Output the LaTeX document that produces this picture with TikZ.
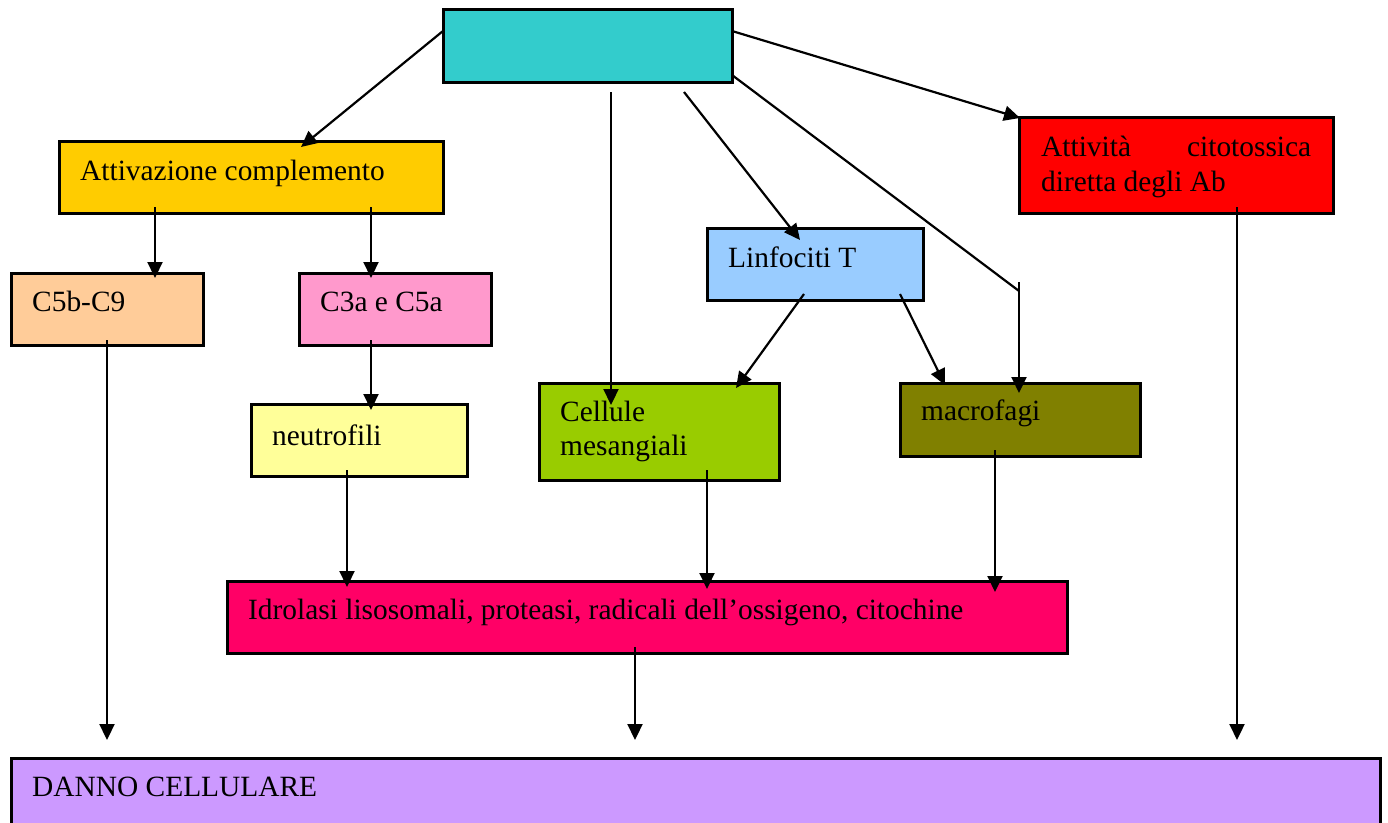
\documentclass[tikz,border=0pt]{standalone}
\usepackage{fontspec}
\setmainfont{Liberation Serif}
\usetikzlibrary{arrows.meta}

\definecolor{cTop}{HTML}{33CCCC}
\definecolor{cAtt}{HTML}{FFCC00}
\definecolor{cCit}{HTML}{FF0000}
\definecolor{cCfive}{HTML}{FFCC99}
\definecolor{cCthree}{HTML}{FF99CC}
\definecolor{cLin}{HTML}{99CCFF}
\definecolor{cNeu}{HTML}{FFFF99}
\definecolor{cMes}{HTML}{99CC00}
\definecolor{cMac}{HTML}{808000}
\definecolor{cIdr}{HTML}{FF0066}
\definecolor{cDan}{HTML}{CC99FF}

\tikzset{
  box/.style={draw=black, line width=3pt, anchor=north west, inner sep=0pt, outer sep=0pt},
  lbl/.style={anchor=base west, inner sep=0pt, font=\fontsize{29.4}{35}\selectfont},
  arr/.style={line width=2.2pt, -{Triangle[length=16pt,width=15pt]}},
  ln/.style={line width=2.2pt}
}

\begin{document}
\begin{tikzpicture}[x=1pt,y=-1pt]
\useasboundingbox (0,0) rectangle (1388,822);
\clip (0,0) rectangle (1388,822);

% boxes
\node[box, fill=cTop, minimum width=289, minimum height=73] (top) at (443,9) {};
\node[box, fill=cAtt, minimum width=384, minimum height=72] (att) at (59,141) {};
\node[box, fill=cCit, minimum width=314, minimum height=96] (cit) at (1019,117) {};
\node[box, fill=cCfive, minimum width=192, minimum height=72] (c5b) at (11,273) {};
\node[box, fill=cCthree, minimum width=192, minimum height=72] (c3a) at (299,273) {};
\node[box, fill=cLin, minimum width=216, minimum height=72] (lin) at (707,228) {};
\node[box, fill=cNeu, minimum width=216, minimum height=72] (neu) at (251,404) {};
\node[box, fill=cMes, minimum width=240, minimum height=97] (mes) at (539,383) {};
\node[box, fill=cMac, minimum width=240, minimum height=73] (mac) at (900,383) {};
\node[box, fill=cIdr, minimum width=840, minimum height=72] (idr) at (227,581) {};
\node[box, fill=cDan, minimum width=1369, minimum height=100] (dan) at (11,758) {};

% labels
\node[lbl] (tatt) at ([shift={(21,39)}]att.north west) {Attivazione complemento};
\node[lbl] (tcit1) at ([shift={(22,39)}]cit.north west) {\makebox[270pt][l]{Attività\hfill citotossica}};
\node[lbl] (tcit2) at ([shift={(22,74)}]cit.north west) {diretta degli Ab};
\node[lbl] (tc5b) at ([shift={(21,38)}]c5b.north west) {C5b-C9};
\node[lbl] (tc3a) at ([shift={(21,38)}]c3a.north west) {C3a e C5a};
\node[lbl] (tlin) at ([shift={(21,39)}]lin.north west) {Linfociti T};
\node[lbl] (tneu) at ([shift={(21,41)}]neu.north west) {neutrofili};
\node[lbl] (tmes1) at ([shift={(21,38)}]mes.north west) {Cellule};
\node[lbl] (tmes2) at ([shift={(21,72)}]mes.north west) {mesangiali};
\node[lbl] (tmac) at ([shift={(21,37)}]mac.north west) {macrofagi};
\node[lbl] (tidr) at ([shift={(21,38)}]idr.north west) {Idrolasi lisosomali, proteasi, radicali dell’ossigeno, citochine};
\node[lbl] (tdan) at ([shift={(21,38)}]dan.north west) {DANNO CELLULARE};

% connectors from the top box
\draw[arr] ([shift={(0,22)}]top.north west) -- ([shift={(242,6)}]att.north west);
\draw[arr] ([shift={(0,22)}]top.north east) -- ([shift={(1,1)}]cit.north west);
\draw[arr] ([shift={(168,10)}]top.south west) -- ([shift={(72,22)}]mes.north west);
\draw[arr] ([shift={(241,10)}]top.south west) -- ([shift={(93,12)}]lin.north west);
\coordinate (bend) at ([shift={(119,-92)}]mac.north west);
\draw[ln] ([shift={(0,-7)}]top.south east) -- (bend);
\draw[arr] ([shift={(0,-9)}]bend) -- ([shift={(119,10)}]mac.north west);

% complement branch
\draw[arr] ([shift={(96,-6)}]att.south west) -- ([shift={(144,5)}]c5b.north west);
\draw[arr] ([shift={(312,-6)}]att.south west) -- ([shift={(72,5)}]c3a.north west);
\draw[arr] ([shift={(72,-5)}]c3a.south west) -- ([shift={(120,6)}]neu.north west);

% T lymphocytes
\draw[arr] ([shift={(97,-6)}]lin.south west) -- ([shift={(197,5)}]mes.north west);
\draw[arr] ([shift={(193,-6)}]lin.south west) -- ([shift={(45,2)}]mac.north west);

% mediators
\draw[arr] ([shift={(96,-6)}]neu.south west) -- ([shift={(120,6)}]idr.north west);
\draw[arr] ([shift={(168,-10)}]mes.south west) -- ([shift={(480,8)}]idr.north west);
\draw[arr] ([shift={(95,-6)}]mac.south west) -- ([shift={(768,11)}]idr.north west);

% towards cell damage
\draw[arr] ([shift={(96,-5)}]c5b.south west) -- ([shift={(96,-18)}]dan.north west);
\draw[arr] ([shift={(408,-6)}]idr.south west) -- ([shift={(624,-18)}]dan.north west);
\draw[arr] ([shift={(218,-6)}]cit.south west) -- ([shift={(1226,-18)}]dan.north west);
\end{tikzpicture}
\end{document}
